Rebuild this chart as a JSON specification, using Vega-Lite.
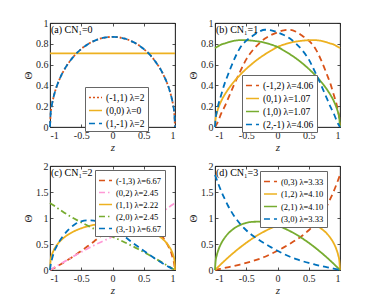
{
"$schema":"https://vega.github.io/schema/vega-lite/v6.json",
"background":"white",
"padding":{"left":22,"top":17,"right":0,"bottom":0},
"bounds":"flush",
"columns":2,
"spacing":{"row":39,"column":40},
"datasets":{
"lbl":[{"k":1}],
"a":[
{"s":"(-1,1) λ=2","z":-1,"v":0},{"s":"(-1,1) λ=2","z":-0.99,"v":0.122},{"s":"(-1,1) λ=2","z":-0.97,"v":0.211},{"s":"(-1,1) λ=2","z":-0.94,"v":0.295},{"s":"(-1,1) λ=2","z":-0.9,"v":0.378},{"s":"(-1,1) λ=2","z":-0.85,"v":0.456},{"s":"(-1,1) λ=2","z":-0.8,"v":0.52},{"s":"(-1,1) λ=2","z":-0.7,"v":0.618},{"s":"(-1,1) λ=2","z":-0.6,"v":0.693},{"s":"(-1,1) λ=2","z":-0.5,"v":0.75},{"s":"(-1,1) λ=2","z":-0.4,"v":0.794},{"s":"(-1,1) λ=2","z":-0.3,"v":0.826},{"s":"(-1,1) λ=2","z":-0.2,"v":0.849},{"s":"(-1,1) λ=2","z":-0.1,"v":0.862},{"s":"(-1,1) λ=2","z":0,"v":0.866},{"s":"(-1,1) λ=2","z":0.1,"v":0.862},{"s":"(-1,1) λ=2","z":0.2,"v":0.849},{"s":"(-1,1) λ=2","z":0.3,"v":0.826},{"s":"(-1,1) λ=2","z":0.4,"v":0.794},{"s":"(-1,1) λ=2","z":0.5,"v":0.75},{"s":"(-1,1) λ=2","z":0.6,"v":0.693},{"s":"(-1,1) λ=2","z":0.7,"v":0.618},{"s":"(-1,1) λ=2","z":0.8,"v":0.52},{"s":"(-1,1) λ=2","z":0.85,"v":0.456},{"s":"(-1,1) λ=2","z":0.9,"v":0.378},{"s":"(-1,1) λ=2","z":0.94,"v":0.295},{"s":"(-1,1) λ=2","z":0.97,"v":0.211},{"s":"(-1,1) λ=2","z":0.99,"v":0.122},{"s":"(-1,1) λ=2","z":1,"v":0},
{"s":"(0,0) λ=0","z":-1,"v":0.707},{"s":"(0,0) λ=0","z":1,"v":0.707},
{"s":"(1,-1) λ=2","z":-1,"v":0},{"s":"(1,-1) λ=2","z":-0.99,"v":0.122},{"s":"(1,-1) λ=2","z":-0.97,"v":0.211},{"s":"(1,-1) λ=2","z":-0.94,"v":0.295},{"s":"(1,-1) λ=2","z":-0.9,"v":0.378},{"s":"(1,-1) λ=2","z":-0.85,"v":0.456},{"s":"(1,-1) λ=2","z":-0.8,"v":0.52},{"s":"(1,-1) λ=2","z":-0.7,"v":0.618},{"s":"(1,-1) λ=2","z":-0.6,"v":0.693},{"s":"(1,-1) λ=2","z":-0.5,"v":0.75},{"s":"(1,-1) λ=2","z":-0.4,"v":0.794},{"s":"(1,-1) λ=2","z":-0.3,"v":0.826},{"s":"(1,-1) λ=2","z":-0.2,"v":0.849},{"s":"(1,-1) λ=2","z":-0.1,"v":0.862},{"s":"(1,-1) λ=2","z":0,"v":0.866},{"s":"(1,-1) λ=2","z":0.1,"v":0.862},{"s":"(1,-1) λ=2","z":0.2,"v":0.849},{"s":"(1,-1) λ=2","z":0.3,"v":0.826},{"s":"(1,-1) λ=2","z":0.4,"v":0.794},{"s":"(1,-1) λ=2","z":0.5,"v":0.75},{"s":"(1,-1) λ=2","z":0.6,"v":0.693},{"s":"(1,-1) λ=2","z":0.7,"v":0.618},{"s":"(1,-1) λ=2","z":0.8,"v":0.52},{"s":"(1,-1) λ=2","z":0.85,"v":0.456},{"s":"(1,-1) λ=2","z":0.9,"v":0.378},{"s":"(1,-1) λ=2","z":0.94,"v":0.295},{"s":"(1,-1) λ=2","z":0.97,"v":0.211},{"s":"(1,-1) λ=2","z":0.99,"v":0.122},{"s":"(1,-1) λ=2","z":1,"v":0}
],
"b":[
{"s":"(-1,2) λ=4.06","z":-1,"v":0},{"s":"(-1,2) λ=4.06","z":-0.99,"v":0.01},{"s":"(-1,2) λ=4.06","z":-0.97,"v":0.03},{"s":"(-1,2) λ=4.06","z":-0.94,"v":0.07},{"s":"(-1,2) λ=4.06","z":-0.9,"v":0.13},{"s":"(-1,2) λ=4.06","z":-0.85,"v":0.19},{"s":"(-1,2) λ=4.06","z":-0.8,"v":0.26},{"s":"(-1,2) λ=4.06","z":-0.7,"v":0.4},{"s":"(-1,2) λ=4.06","z":-0.6,"v":0.53},{"s":"(-1,2) λ=4.06","z":-0.5,"v":0.65},{"s":"(-1,2) λ=4.06","z":-0.4,"v":0.735},{"s":"(-1,2) λ=4.06","z":-0.3,"v":0.8},{"s":"(-1,2) λ=4.06","z":-0.2,"v":0.85},{"s":"(-1,2) λ=4.06","z":-0.1,"v":0.885},{"s":"(-1,2) λ=4.06","z":0,"v":0.91},{"s":"(-1,2) λ=4.06","z":0.1,"v":0.93},{"s":"(-1,2) λ=4.06","z":0.2,"v":0.935},{"s":"(-1,2) λ=4.06","z":0.3,"v":0.915},{"s":"(-1,2) λ=4.06","z":0.4,"v":0.875},{"s":"(-1,2) λ=4.06","z":0.5,"v":0.83},{"s":"(-1,2) λ=4.06","z":0.6,"v":0.76},{"s":"(-1,2) λ=4.06","z":0.7,"v":0.64},{"s":"(-1,2) λ=4.06","z":0.8,"v":0.49},{"s":"(-1,2) λ=4.06","z":0.85,"v":0.41},{"s":"(-1,2) λ=4.06","z":0.9,"v":0.31},{"s":"(-1,2) λ=4.06","z":0.94,"v":0.23},{"s":"(-1,2) λ=4.06","z":0.97,"v":0.15},{"s":"(-1,2) λ=4.06","z":0.99,"v":0.08},{"s":"(-1,2) λ=4.06","z":1,"v":0},
{"s":"(0,1) λ=1.07","z":-1,"v":0},{"s":"(0,1) λ=1.07","z":-0.99,"v":0.079},{"s":"(0,1) λ=1.07","z":-0.97,"v":0.137},{"s":"(0,1) λ=1.07","z":-0.94,"v":0.193},{"s":"(0,1) λ=1.07","z":-0.9,"v":0.25},{"s":"(0,1) λ=1.07","z":-0.85,"v":0.306},{"s":"(0,1) λ=1.07","z":-0.8,"v":0.353},{"s":"(0,1) λ=1.07","z":-0.7,"v":0.433},{"s":"(0,1) λ=1.07","z":-0.6,"v":0.5},{"s":"(0,1) λ=1.07","z":-0.5,"v":0.559},{"s":"(0,1) λ=1.07","z":-0.4,"v":0.611},{"s":"(0,1) λ=1.07","z":-0.3,"v":0.658},{"s":"(0,1) λ=1.07","z":-0.2,"v":0.699},{"s":"(0,1) λ=1.07","z":-0.1,"v":0.736},{"s":"(0,1) λ=1.07","z":0,"v":0.77},{"s":"(0,1) λ=1.07","z":0.1,"v":0.792},{"s":"(0,1) λ=1.07","z":0.2,"v":0.81},{"s":"(0,1) λ=1.07","z":0.3,"v":0.822},{"s":"(0,1) λ=1.07","z":0.4,"v":0.83},{"s":"(0,1) λ=1.07","z":0.5,"v":0.834},{"s":"(0,1) λ=1.07","z":0.6,"v":0.835},{"s":"(0,1) λ=1.07","z":0.7,"v":0.828},{"s":"(0,1) λ=1.07","z":0.8,"v":0.812},{"s":"(0,1) λ=1.07","z":0.85,"v":0.802},{"s":"(0,1) λ=1.07","z":0.9,"v":0.793},{"s":"(0,1) λ=1.07","z":0.94,"v":0.78},{"s":"(0,1) λ=1.07","z":0.97,"v":0.769},{"s":"(0,1) λ=1.07","z":0.99,"v":0.763},{"s":"(0,1) λ=1.07","z":1,"v":0.76},
{"s":"(1,0) λ=1.07","z":-1,"v":0.76},{"s":"(1,0) λ=1.07","z":-0.99,"v":0.763},{"s":"(1,0) λ=1.07","z":-0.97,"v":0.769},{"s":"(1,0) λ=1.07","z":-0.94,"v":0.78},{"s":"(1,0) λ=1.07","z":-0.9,"v":0.793},{"s":"(1,0) λ=1.07","z":-0.85,"v":0.802},{"s":"(1,0) λ=1.07","z":-0.8,"v":0.812},{"s":"(1,0) λ=1.07","z":-0.7,"v":0.828},{"s":"(1,0) λ=1.07","z":-0.6,"v":0.835},{"s":"(1,0) λ=1.07","z":-0.5,"v":0.834},{"s":"(1,0) λ=1.07","z":-0.4,"v":0.83},{"s":"(1,0) λ=1.07","z":-0.3,"v":0.822},{"s":"(1,0) λ=1.07","z":-0.2,"v":0.81},{"s":"(1,0) λ=1.07","z":-0.1,"v":0.792},{"s":"(1,0) λ=1.07","z":0,"v":0.77},{"s":"(1,0) λ=1.07","z":0.1,"v":0.736},{"s":"(1,0) λ=1.07","z":0.2,"v":0.699},{"s":"(1,0) λ=1.07","z":0.3,"v":0.658},{"s":"(1,0) λ=1.07","z":0.4,"v":0.611},{"s":"(1,0) λ=1.07","z":0.5,"v":0.559},{"s":"(1,0) λ=1.07","z":0.6,"v":0.5},{"s":"(1,0) λ=1.07","z":0.7,"v":0.433},{"s":"(1,0) λ=1.07","z":0.8,"v":0.353},{"s":"(1,0) λ=1.07","z":0.85,"v":0.306},{"s":"(1,0) λ=1.07","z":0.9,"v":0.25},{"s":"(1,0) λ=1.07","z":0.94,"v":0.193},{"s":"(1,0) λ=1.07","z":0.97,"v":0.137},{"s":"(1,0) λ=1.07","z":0.99,"v":0.079},{"s":"(1,0) λ=1.07","z":1,"v":0},
{"s":"(2,-1) λ=4.06","z":-1,"v":0},{"s":"(2,-1) λ=4.06","z":-0.99,"v":0.08},{"s":"(2,-1) λ=4.06","z":-0.97,"v":0.15},{"s":"(2,-1) λ=4.06","z":-0.94,"v":0.23},{"s":"(2,-1) λ=4.06","z":-0.9,"v":0.31},{"s":"(2,-1) λ=4.06","z":-0.85,"v":0.41},{"s":"(2,-1) λ=4.06","z":-0.8,"v":0.49},{"s":"(2,-1) λ=4.06","z":-0.7,"v":0.64},{"s":"(2,-1) λ=4.06","z":-0.6,"v":0.76},{"s":"(2,-1) λ=4.06","z":-0.5,"v":0.83},{"s":"(2,-1) λ=4.06","z":-0.4,"v":0.875},{"s":"(2,-1) λ=4.06","z":-0.3,"v":0.915},{"s":"(2,-1) λ=4.06","z":-0.2,"v":0.935},{"s":"(2,-1) λ=4.06","z":-0.1,"v":0.93},{"s":"(2,-1) λ=4.06","z":0,"v":0.91},{"s":"(2,-1) λ=4.06","z":0.1,"v":0.885},{"s":"(2,-1) λ=4.06","z":0.2,"v":0.85},{"s":"(2,-1) λ=4.06","z":0.3,"v":0.8},{"s":"(2,-1) λ=4.06","z":0.4,"v":0.735},{"s":"(2,-1) λ=4.06","z":0.5,"v":0.65},{"s":"(2,-1) λ=4.06","z":0.6,"v":0.53},{"s":"(2,-1) λ=4.06","z":0.7,"v":0.4},{"s":"(2,-1) λ=4.06","z":0.8,"v":0.26},{"s":"(2,-1) λ=4.06","z":0.85,"v":0.19},{"s":"(2,-1) λ=4.06","z":0.9,"v":0.13},{"s":"(2,-1) λ=4.06","z":0.94,"v":0.07},{"s":"(2,-1) λ=4.06","z":0.97,"v":0.03},{"s":"(2,-1) λ=4.06","z":0.99,"v":0.01},{"s":"(2,-1) λ=4.06","z":1,"v":0}
],
"c":[
{"s":"(-1,3) λ=6.67","z":-1,"v":0},{"s":"(-1,3) λ=6.67","z":-0.99,"v":0.005},{"s":"(-1,3) λ=6.67","z":-0.97,"v":0.017},{"s":"(-1,3) λ=6.67","z":-0.94,"v":0.035},{"s":"(-1,3) λ=6.67","z":-0.9,"v":0.06},{"s":"(-1,3) λ=6.67","z":-0.85,"v":0.095},{"s":"(-1,3) λ=6.67","z":-0.8,"v":0.13},{"s":"(-1,3) λ=6.67","z":-0.7,"v":0.205},{"s":"(-1,3) λ=6.67","z":-0.6,"v":0.285},{"s":"(-1,3) λ=6.67","z":-0.5,"v":0.37},{"s":"(-1,3) λ=6.67","z":-0.4,"v":0.455},{"s":"(-1,3) λ=6.67","z":-0.3,"v":0.545},{"s":"(-1,3) λ=6.67","z":-0.2,"v":0.64},{"s":"(-1,3) λ=6.67","z":-0.1,"v":0.73},{"s":"(-1,3) λ=6.67","z":0,"v":0.81},{"s":"(-1,3) λ=6.67","z":0.1,"v":0.87},{"s":"(-1,3) λ=6.67","z":0.2,"v":0.92},{"s":"(-1,3) λ=6.67","z":0.3,"v":0.95},{"s":"(-1,3) λ=6.67","z":0.4,"v":0.955},{"s":"(-1,3) λ=6.67","z":0.5,"v":0.935},{"s":"(-1,3) λ=6.67","z":0.6,"v":0.88},{"s":"(-1,3) λ=6.67","z":0.7,"v":0.78},{"s":"(-1,3) λ=6.67","z":0.8,"v":0.64},{"s":"(-1,3) λ=6.67","z":0.85,"v":0.55},{"s":"(-1,3) λ=6.67","z":0.9,"v":0.44},{"s":"(-1,3) λ=6.67","z":0.94,"v":0.33},{"s":"(-1,3) λ=6.67","z":0.97,"v":0.2},{"s":"(-1,3) λ=6.67","z":0.99,"v":0.1},{"s":"(-1,3) λ=6.67","z":1,"v":0},
{"s":"(0,2) λ=2.45","z":-1,"v":0},{"s":"(0,2) λ=2.45","z":-0.99,"v":0.007},{"s":"(0,2) λ=2.45","z":-0.97,"v":0.021},{"s":"(0,2) λ=2.45","z":-0.94,"v":0.042},{"s":"(0,2) λ=2.45","z":-0.9,"v":0.07},{"s":"(0,2) λ=2.45","z":-0.85,"v":0.105},{"s":"(0,2) λ=2.45","z":-0.8,"v":0.14},{"s":"(0,2) λ=2.45","z":-0.7,"v":0.21},{"s":"(0,2) λ=2.45","z":-0.6,"v":0.28},{"s":"(0,2) λ=2.45","z":-0.5,"v":0.345},{"s":"(0,2) λ=2.45","z":-0.4,"v":0.41},{"s":"(0,2) λ=2.45","z":-0.3,"v":0.47},{"s":"(0,2) λ=2.45","z":-0.2,"v":0.53},{"s":"(0,2) λ=2.45","z":-0.1,"v":0.585},{"s":"(0,2) λ=2.45","z":0,"v":0.64},{"s":"(0,2) λ=2.45","z":0.1,"v":0.69},{"s":"(0,2) λ=2.45","z":0.2,"v":0.74},{"s":"(0,2) λ=2.45","z":0.3,"v":0.795},{"s":"(0,2) λ=2.45","z":0.4,"v":0.855},{"s":"(0,2) λ=2.45","z":0.5,"v":0.915},{"s":"(0,2) λ=2.45","z":0.6,"v":0.98},{"s":"(0,2) λ=2.45","z":0.7,"v":1.05},{"s":"(0,2) λ=2.45","z":0.8,"v":1.125},{"s":"(0,2) λ=2.45","z":0.85,"v":1.165},{"s":"(0,2) λ=2.45","z":0.9,"v":1.205},{"s":"(0,2) λ=2.45","z":0.94,"v":1.24},{"s":"(0,2) λ=2.45","z":0.97,"v":1.265},{"s":"(0,2) λ=2.45","z":0.99,"v":1.28},{"s":"(0,2) λ=2.45","z":1,"v":1.29},
{"s":"(1,1) λ=2.22","z":-1,"v":0},{"s":"(1,1) λ=2.22","z":-0.99,"v":0.188},{"s":"(1,1) λ=2.22","z":-0.97,"v":0.29},{"s":"(1,1) λ=2.22","z":-0.94,"v":0.381},{"s":"(1,1) λ=2.22","z":-0.9,"v":0.463},{"s":"(1,1) λ=2.22","z":-0.85,"v":0.539},{"s":"(1,1) λ=2.22","z":-0.8,"v":0.598},{"s":"(1,1) λ=2.22","z":-0.7,"v":0.688},{"s":"(1,1) λ=2.22","z":-0.6,"v":0.753},{"s":"(1,1) λ=2.22","z":-0.5,"v":0.802},{"s":"(1,1) λ=2.22","z":-0.4,"v":0.839},{"s":"(1,1) λ=2.22","z":-0.3,"v":0.867},{"s":"(1,1) λ=2.22","z":-0.2,"v":0.885},{"s":"(1,1) λ=2.22","z":-0.1,"v":0.896},{"s":"(1,1) λ=2.22","z":0,"v":0.9},{"s":"(1,1) λ=2.22","z":0.1,"v":0.896},{"s":"(1,1) λ=2.22","z":0.2,"v":0.885},{"s":"(1,1) λ=2.22","z":0.3,"v":0.867},{"s":"(1,1) λ=2.22","z":0.4,"v":0.839},{"s":"(1,1) λ=2.22","z":0.5,"v":0.802},{"s":"(1,1) λ=2.22","z":0.6,"v":0.753},{"s":"(1,1) λ=2.22","z":0.7,"v":0.688},{"s":"(1,1) λ=2.22","z":0.8,"v":0.598},{"s":"(1,1) λ=2.22","z":0.85,"v":0.539},{"s":"(1,1) λ=2.22","z":0.9,"v":0.463},{"s":"(1,1) λ=2.22","z":0.94,"v":0.381},{"s":"(1,1) λ=2.22","z":0.97,"v":0.29},{"s":"(1,1) λ=2.22","z":0.99,"v":0.188},{"s":"(1,1) λ=2.22","z":1,"v":0},
{"s":"(2,0) λ=2.45","z":-1,"v":1.29},{"s":"(2,0) λ=2.45","z":-0.99,"v":1.28},{"s":"(2,0) λ=2.45","z":-0.97,"v":1.265},{"s":"(2,0) λ=2.45","z":-0.94,"v":1.24},{"s":"(2,0) λ=2.45","z":-0.9,"v":1.205},{"s":"(2,0) λ=2.45","z":-0.85,"v":1.165},{"s":"(2,0) λ=2.45","z":-0.8,"v":1.125},{"s":"(2,0) λ=2.45","z":-0.7,"v":1.05},{"s":"(2,0) λ=2.45","z":-0.6,"v":0.98},{"s":"(2,0) λ=2.45","z":-0.5,"v":0.915},{"s":"(2,0) λ=2.45","z":-0.4,"v":0.855},{"s":"(2,0) λ=2.45","z":-0.3,"v":0.795},{"s":"(2,0) λ=2.45","z":-0.2,"v":0.74},{"s":"(2,0) λ=2.45","z":-0.1,"v":0.69},{"s":"(2,0) λ=2.45","z":0,"v":0.64},{"s":"(2,0) λ=2.45","z":0.1,"v":0.585},{"s":"(2,0) λ=2.45","z":0.2,"v":0.53},{"s":"(2,0) λ=2.45","z":0.3,"v":0.47},{"s":"(2,0) λ=2.45","z":0.4,"v":0.41},{"s":"(2,0) λ=2.45","z":0.5,"v":0.345},{"s":"(2,0) λ=2.45","z":0.6,"v":0.28},{"s":"(2,0) λ=2.45","z":0.7,"v":0.21},{"s":"(2,0) λ=2.45","z":0.8,"v":0.14},{"s":"(2,0) λ=2.45","z":0.85,"v":0.105},{"s":"(2,0) λ=2.45","z":0.9,"v":0.07},{"s":"(2,0) λ=2.45","z":0.94,"v":0.042},{"s":"(2,0) λ=2.45","z":0.97,"v":0.021},{"s":"(2,0) λ=2.45","z":0.99,"v":0.007},{"s":"(2,0) λ=2.45","z":1,"v":0},
{"s":"(3,-1) λ=6.67","z":-1,"v":0},{"s":"(3,-1) λ=6.67","z":-0.99,"v":0.1},{"s":"(3,-1) λ=6.67","z":-0.97,"v":0.2},{"s":"(3,-1) λ=6.67","z":-0.94,"v":0.33},{"s":"(3,-1) λ=6.67","z":-0.9,"v":0.44},{"s":"(3,-1) λ=6.67","z":-0.85,"v":0.55},{"s":"(3,-1) λ=6.67","z":-0.8,"v":0.64},{"s":"(3,-1) λ=6.67","z":-0.7,"v":0.78},{"s":"(3,-1) λ=6.67","z":-0.6,"v":0.88},{"s":"(3,-1) λ=6.67","z":-0.5,"v":0.935},{"s":"(3,-1) λ=6.67","z":-0.4,"v":0.955},{"s":"(3,-1) λ=6.67","z":-0.3,"v":0.95},{"s":"(3,-1) λ=6.67","z":-0.2,"v":0.92},{"s":"(3,-1) λ=6.67","z":-0.1,"v":0.87},{"s":"(3,-1) λ=6.67","z":0,"v":0.81},{"s":"(3,-1) λ=6.67","z":0.1,"v":0.73},{"s":"(3,-1) λ=6.67","z":0.2,"v":0.64},{"s":"(3,-1) λ=6.67","z":0.3,"v":0.545},{"s":"(3,-1) λ=6.67","z":0.4,"v":0.455},{"s":"(3,-1) λ=6.67","z":0.5,"v":0.37},{"s":"(3,-1) λ=6.67","z":0.6,"v":0.285},{"s":"(3,-1) λ=6.67","z":0.7,"v":0.205},{"s":"(3,-1) λ=6.67","z":0.8,"v":0.13},{"s":"(3,-1) λ=6.67","z":0.85,"v":0.095},{"s":"(3,-1) λ=6.67","z":0.9,"v":0.06},{"s":"(3,-1) λ=6.67","z":0.94,"v":0.035},{"s":"(3,-1) λ=6.67","z":0.97,"v":0.017},{"s":"(3,-1) λ=6.67","z":0.99,"v":0.005},{"s":"(3,-1) λ=6.67","z":1,"v":0}
],
"d":[
{"s":"(0,3) λ=3.33","z":-1,"v":0},{"s":"(0,3) λ=3.33","z":-0.99,"v":0.002},{"s":"(0,3) λ=3.33","z":-0.97,"v":0.007},{"s":"(0,3) λ=3.33","z":-0.94,"v":0.015},{"s":"(0,3) λ=3.33","z":-0.9,"v":0.025},{"s":"(0,3) λ=3.33","z":-0.85,"v":0.038},{"s":"(0,3) λ=3.33","z":-0.8,"v":0.05},{"s":"(0,3) λ=3.33","z":-0.7,"v":0.077},{"s":"(0,3) λ=3.33","z":-0.6,"v":0.105},{"s":"(0,3) λ=3.33","z":-0.5,"v":0.135},{"s":"(0,3) λ=3.33","z":-0.4,"v":0.17},{"s":"(0,3) λ=3.33","z":-0.3,"v":0.21},{"s":"(0,3) λ=3.33","z":-0.2,"v":0.255},{"s":"(0,3) λ=3.33","z":-0.1,"v":0.31},{"s":"(0,3) λ=3.33","z":0,"v":0.37},{"s":"(0,3) λ=3.33","z":0.1,"v":0.435},{"s":"(0,3) λ=3.33","z":0.2,"v":0.505},{"s":"(0,3) λ=3.33","z":0.3,"v":0.58},{"s":"(0,3) λ=3.33","z":0.4,"v":0.665},{"s":"(0,3) λ=3.33","z":0.5,"v":0.765},{"s":"(0,3) λ=3.33","z":0.6,"v":0.89},{"s":"(0,3) λ=3.33","z":0.7,"v":1.05},{"s":"(0,3) λ=3.33","z":0.8,"v":1.255},{"s":"(0,3) λ=3.33","z":0.85,"v":1.38},{"s":"(0,3) λ=3.33","z":0.9,"v":1.515},{"s":"(0,3) λ=3.33","z":0.94,"v":1.635},{"s":"(0,3) λ=3.33","z":0.97,"v":1.73},{"s":"(0,3) λ=3.33","z":0.99,"v":1.797},{"s":"(0,3) λ=3.33","z":1,"v":1.83},
{"s":"(1,2) λ=4.10","z":-1,"v":0},{"s":"(1,2) λ=4.10","z":-0.99,"v":0.012},{"s":"(1,2) λ=4.10","z":-0.97,"v":0.036},{"s":"(1,2) λ=4.10","z":-0.94,"v":0.071},{"s":"(1,2) λ=4.10","z":-0.9,"v":0.118},{"s":"(1,2) λ=4.10","z":-0.85,"v":0.174},{"s":"(1,2) λ=4.10","z":-0.8,"v":0.229},{"s":"(1,2) λ=4.10","z":-0.7,"v":0.334},{"s":"(1,2) λ=4.10","z":-0.6,"v":0.432},{"s":"(1,2) λ=4.10","z":-0.5,"v":0.523},{"s":"(1,2) λ=4.10","z":-0.4,"v":0.606},{"s":"(1,2) λ=4.10","z":-0.3,"v":0.682},{"s":"(1,2) λ=4.10","z":-0.2,"v":0.748},{"s":"(1,2) λ=4.10","z":-0.1,"v":0.806},{"s":"(1,2) λ=4.10","z":0,"v":0.854},{"s":"(1,2) λ=4.10","z":0.1,"v":0.891},{"s":"(1,2) λ=4.10","z":0.2,"v":0.917},{"s":"(1,2) λ=4.10","z":0.3,"v":0.929},{"s":"(1,2) λ=4.10","z":0.4,"v":0.926},{"s":"(1,2) λ=4.10","z":0.5,"v":0.906},{"s":"(1,2) λ=4.10","z":0.6,"v":0.864},{"s":"(1,2) λ=4.10","z":0.7,"v":0.795},{"s":"(1,2) λ=4.10","z":0.8,"v":0.687},{"s":"(1,2) λ=4.10","z":0.85,"v":0.612},{"s":"(1,2) λ=4.10","z":0.9,"v":0.513},{"s":"(1,2) λ=4.10","z":0.94,"v":0.406},{"s":"(1,2) λ=4.10","z":0.97,"v":0.291},{"s":"(1,2) λ=4.10","z":0.99,"v":0.17},{"s":"(1,2) λ=4.10","z":1,"v":0},
{"s":"(2,1) λ=4.10","z":-1,"v":0},{"s":"(2,1) λ=4.10","z":-0.99,"v":0.17},{"s":"(2,1) λ=4.10","z":-0.97,"v":0.291},{"s":"(2,1) λ=4.10","z":-0.94,"v":0.406},{"s":"(2,1) λ=4.10","z":-0.9,"v":0.513},{"s":"(2,1) λ=4.10","z":-0.85,"v":0.612},{"s":"(2,1) λ=4.10","z":-0.8,"v":0.687},{"s":"(2,1) λ=4.10","z":-0.7,"v":0.795},{"s":"(2,1) λ=4.10","z":-0.6,"v":0.864},{"s":"(2,1) λ=4.10","z":-0.5,"v":0.906},{"s":"(2,1) λ=4.10","z":-0.4,"v":0.926},{"s":"(2,1) λ=4.10","z":-0.3,"v":0.929},{"s":"(2,1) λ=4.10","z":-0.2,"v":0.917},{"s":"(2,1) λ=4.10","z":-0.1,"v":0.891},{"s":"(2,1) λ=4.10","z":0,"v":0.854},{"s":"(2,1) λ=4.10","z":0.1,"v":0.806},{"s":"(2,1) λ=4.10","z":0.2,"v":0.748},{"s":"(2,1) λ=4.10","z":0.3,"v":0.682},{"s":"(2,1) λ=4.10","z":0.4,"v":0.606},{"s":"(2,1) λ=4.10","z":0.5,"v":0.523},{"s":"(2,1) λ=4.10","z":0.6,"v":0.432},{"s":"(2,1) λ=4.10","z":0.7,"v":0.334},{"s":"(2,1) λ=4.10","z":0.8,"v":0.229},{"s":"(2,1) λ=4.10","z":0.85,"v":0.174},{"s":"(2,1) λ=4.10","z":0.9,"v":0.118},{"s":"(2,1) λ=4.10","z":0.94,"v":0.071},{"s":"(2,1) λ=4.10","z":0.97,"v":0.036},{"s":"(2,1) λ=4.10","z":0.99,"v":0.012},{"s":"(2,1) λ=4.10","z":1,"v":0},
{"s":"(3,0) λ=3.33","z":-1,"v":1.83},{"s":"(3,0) λ=3.33","z":-0.99,"v":1.797},{"s":"(3,0) λ=3.33","z":-0.97,"v":1.73},{"s":"(3,0) λ=3.33","z":-0.94,"v":1.635},{"s":"(3,0) λ=3.33","z":-0.9,"v":1.515},{"s":"(3,0) λ=3.33","z":-0.85,"v":1.38},{"s":"(3,0) λ=3.33","z":-0.8,"v":1.255},{"s":"(3,0) λ=3.33","z":-0.7,"v":1.05},{"s":"(3,0) λ=3.33","z":-0.6,"v":0.89},{"s":"(3,0) λ=3.33","z":-0.5,"v":0.765},{"s":"(3,0) λ=3.33","z":-0.4,"v":0.665},{"s":"(3,0) λ=3.33","z":-0.3,"v":0.58},{"s":"(3,0) λ=3.33","z":-0.2,"v":0.505},{"s":"(3,0) λ=3.33","z":-0.1,"v":0.435},{"s":"(3,0) λ=3.33","z":0,"v":0.37},{"s":"(3,0) λ=3.33","z":0.1,"v":0.31},{"s":"(3,0) λ=3.33","z":0.2,"v":0.255},{"s":"(3,0) λ=3.33","z":0.3,"v":0.21},{"s":"(3,0) λ=3.33","z":0.4,"v":0.17},{"s":"(3,0) λ=3.33","z":0.5,"v":0.135},{"s":"(3,0) λ=3.33","z":0.6,"v":0.105},{"s":"(3,0) λ=3.33","z":0.7,"v":0.077},{"s":"(3,0) λ=3.33","z":0.8,"v":0.05},{"s":"(3,0) λ=3.33","z":0.85,"v":0.038},{"s":"(3,0) λ=3.33","z":0.9,"v":0.025},{"s":"(3,0) λ=3.33","z":0.94,"v":0.015},{"s":"(3,0) λ=3.33","z":0.97,"v":0.007},{"s":"(3,0) λ=3.33","z":0.99,"v":0.002},{"s":"(3,0) λ=3.33","z":1,"v":0}
]
},
"concat":[
{"width":125,"height":104,
 "layer":[
  {"data":{"name":"a"},"mark":{"type":"line","strokeWidth":1.8,"interpolate":"monotone"},
   "encoding":{
    "x":{"field":"z","type":"quantitative","scale":{"domain":[-1,1],"nice":false},"axis":{"orient":"bottom","values":[-1,-0.5,0,0.5,1],"title":"z","titleFontStyle":"italic","labelExpr":"datum.value < 0 ? '-' + format(-datum.value,'~g') : format(datum.value,'~g')"}},
    "y":{"field":"v","type":"quantitative","scale":{"domain":[0,1],"nice":false},"axis":{"orient":"left","values":[0,0.2,0.4,0.6,0.8,1],"title":"Θ","labelExpr":"format(datum.value,'~g')"}},
    "color":{"field":"s","type":"nominal","scale":{"domain":["(-1,1) λ=2","(0,0) λ=0","(1,-1) λ=2"],"range":["#D95319","#EDB120","#0072BD"]},"legend":{"orient":"none","legendX":35,"legendY":64,"title":null}},
    "strokeDash":{"field":"s","type":"nominal","scale":{"domain":["(-1,1) λ=2","(0,0) λ=0","(1,-1) λ=2"],"range":[[2,2],[1,0],[6,4]]},"legend":{"orient":"none","legendX":35,"legendY":64,"title":null}}
   }},
  {"data":{"name":"lbl"},"mark":{"type":"text","align":"left","baseline":"top","dx":1,"dy":2,"font":"Liberation Serif","fontSize":10,"fontWeight":"normal","color":"#000"},
   "encoding":{
    "x":{"datum":-1,"type":"quantitative","axis":{"orient":"top","values":[-1,-0.5,0,0.5,1],"labels":false,"title":null}},
    "y":{"datum":1,"type":"quantitative","axis":{"orient":"right","values":[0,0.2,0.4,0.6,0.8,1],"labels":false,"title":null}},
    "text":{"value":"(a) CN₁=0"}}}
 ],
 "resolve":{"axis":{"x":"independent","y":"independent"}}},
{"width":125,"height":104,
 "layer":[
  {"data":{"name":"b"},"mark":{"type":"line","strokeWidth":1.8,"interpolate":"monotone"},
   "encoding":{
    "x":{"field":"z","type":"quantitative","scale":{"domain":[-1,1],"nice":false},"axis":{"orient":"bottom","values":[-1,-0.5,0,0.5,1],"title":"z","titleFontStyle":"italic","labelExpr":"datum.value < 0 ? '-' + format(-datum.value,'~g') : format(datum.value,'~g')"}},
    "y":{"field":"v","type":"quantitative","scale":{"domain":[0,1],"nice":false},"axis":{"orient":"left","values":[0,0.2,0.4,0.6,0.8,1],"title":"Θ","labelExpr":"format(datum.value,'~g')"}},
    "color":{"field":"s","type":"nominal","scale":{"domain":["(-1,2) λ=4.06","(0,1) λ=1.07","(1,0) λ=1.07","(2,-1) λ=4.06"],"range":["#D95319","#EDB120","#77AC30","#0072BD"]},"legend":{"orient":"none","legendX":27,"legendY":52,"title":null}},
    "strokeDash":{"field":"s","type":"nominal","scale":{"domain":["(-1,2) λ=4.06","(0,1) λ=1.07","(1,0) λ=1.07","(2,-1) λ=4.06"],"range":[[6,4],[1,0],[1,0],[6,4]]},"legend":{"orient":"none","legendX":27,"legendY":52,"title":null}}
   }},
  {"data":{"name":"lbl"},"mark":{"type":"text","align":"left","baseline":"top","dx":1,"dy":2,"font":"Liberation Serif","fontSize":10,"fontWeight":"normal","color":"#000"},
   "encoding":{
    "x":{"datum":-1,"type":"quantitative","axis":{"orient":"top","values":[-1,-0.5,0,0.5,1],"labels":false,"title":null}},
    "y":{"datum":1,"type":"quantitative","axis":{"orient":"right","values":[0,0.2,0.4,0.6,0.8,1],"labels":false,"title":null}},
    "text":{"value":"(b) CN₁=1"}}}
 ],
 "resolve":{"axis":{"x":"independent","y":"independent"}}},
{"width":125,"height":104,
 "layer":[
  {"data":{"name":"c"},"mark":{"type":"line","strokeWidth":1.8,"interpolate":"monotone"},
   "encoding":{
    "x":{"field":"z","type":"quantitative","scale":{"domain":[-1,1],"nice":false},"axis":{"orient":"bottom","values":[-1,-0.5,0,0.5,1],"title":"z","titleFontStyle":"italic","labelExpr":"datum.value < 0 ? '-' + format(-datum.value,'~g') : format(datum.value,'~g')"}},
    "y":{"field":"v","type":"quantitative","scale":{"domain":[0,2],"nice":false},"axis":{"orient":"left","values":[0,0.5,1,1.5,2],"title":"Θ","labelExpr":"format(datum.value,'~g')"}},
    "color":{"field":"s","type":"nominal","scale":{"domain":["(-1,3) λ=6.67","(0,2) λ=2.45","(1,1) λ=2.22","(2,0) λ=2.45","(3,-1) λ=6.67"],"range":["#D95319","#FF99D6","#EDB120","#77AC30","#0072BD"]},"legend":{"orient":"none","legendX":45,"legendY":4,"title":null,"labelFontSize":8.5,"rowPadding":0}},
    "strokeDash":{"field":"s","type":"nominal","scale":{"domain":["(-1,3) λ=6.67","(0,2) λ=2.45","(1,1) λ=2.22","(2,0) λ=2.45","(3,-1) λ=6.67"],"range":[[6,4],[6,3,1.5,3],[1,0],[6,3,1.5,3],[6,4]]},"legend":{"orient":"none","legendX":45,"legendY":4,"title":null,"labelFontSize":8.5,"rowPadding":0}}
   }},
  {"data":{"name":"lbl"},"mark":{"type":"text","align":"left","baseline":"top","dx":1,"dy":2,"font":"Liberation Serif","fontSize":10,"fontWeight":"normal","color":"#000"},
   "encoding":{
    "x":{"datum":-1,"type":"quantitative","axis":{"orient":"top","values":[-1,-0.5,0,0.5,1],"labels":false,"title":null}},
    "y":{"datum":2,"type":"quantitative","axis":{"orient":"right","values":[0,0.5,1,1.5,2],"labels":false,"title":null}},
    "text":{"value":"(c) CN₁=2"}}}
 ],
 "resolve":{"axis":{"x":"independent","y":"independent"}}},
{"width":125,"height":104,
 "layer":[
  {"data":{"name":"d"},"mark":{"type":"line","strokeWidth":1.8,"interpolate":"monotone"},
   "encoding":{
    "x":{"field":"z","type":"quantitative","scale":{"domain":[-1,1],"nice":false},"axis":{"orient":"bottom","values":[-1,-0.5,0,0.5,1],"title":"z","titleFontStyle":"italic","labelExpr":"datum.value < 0 ? '-' + format(-datum.value,'~g') : format(datum.value,'~g')"}},
    "y":{"field":"v","type":"quantitative","scale":{"domain":[0,2],"nice":false},"axis":{"orient":"left","values":[0,0.5,1,1.5,2],"title":"Θ","labelExpr":"format(datum.value,'~g')"}},
    "color":{"field":"s","type":"nominal","scale":{"domain":["(0,3) λ=3.33","(1,2) λ=4.10","(2,1) λ=4.10","(3,0) λ=3.33"],"range":["#D95319","#EDB120","#77AC30","#0072BD"]},"legend":{"orient":"none","legendX":45,"legendY":5,"title":null,"labelFontSize":8.5,"rowPadding":0.5}},
    "strokeDash":{"field":"s","type":"nominal","scale":{"domain":["(0,3) λ=3.33","(1,2) λ=4.10","(2,1) λ=4.10","(3,0) λ=3.33"],"range":[[6,4],[1,0],[1,0],[6,4]]},"legend":{"orient":"none","legendX":45,"legendY":5,"title":null,"labelFontSize":8.5,"rowPadding":0.5}}
   }},
  {"data":{"name":"lbl"},"mark":{"type":"text","align":"left","baseline":"top","dx":1,"dy":2,"font":"Liberation Serif","fontSize":10,"fontWeight":"normal","color":"#000"},
   "encoding":{
    "x":{"datum":-1,"type":"quantitative","axis":{"orient":"top","values":[-1,-0.5,0,0.5,1],"labels":false,"title":null}},
    "y":{"datum":2,"type":"quantitative","axis":{"orient":"right","values":[0,0.5,1,1.5,2],"labels":false,"title":null}},
    "text":{"value":"(d) CN₁=3"}}}
 ],
 "resolve":{"axis":{"x":"independent","y":"independent"}}}
],
"resolve":{"scale":{"color":"independent","strokeDash":"independent"},"legend":{"color":"independent","strokeDash":"independent"}},
"config":{
 "view":{"stroke":"#262626","strokeWidth":0.8},
 "axis":{"grid":false,"tickSize":-3,"tickColor":"#262626","tickWidth":0.8,"domainColor":"#262626","domainWidth":0.8,"labelFont":"Liberation Serif","labelFontSize":10,"labelColor":"#262626","titleFont":"Liberation Serif","titleFontSize":11,"titleFontWeight":"normal","titleColor":"#262626"},
 "axisX":{"labelPadding":6,"titlePadding":1},
 "axisY":{"labelPadding":5,"titlePadding":2},
 "legend":{"symbolType":"stroke","symbolSize":170,"symbolStrokeWidth":1.6,"labelFont":"Liberation Serif","labelFontSize":9.5,"labelColor":"#000","strokeColor":"#666666","fillColor":"white","padding":3,"rowPadding":1,"labelOffset":3,"labelLimit":200}
}
}
